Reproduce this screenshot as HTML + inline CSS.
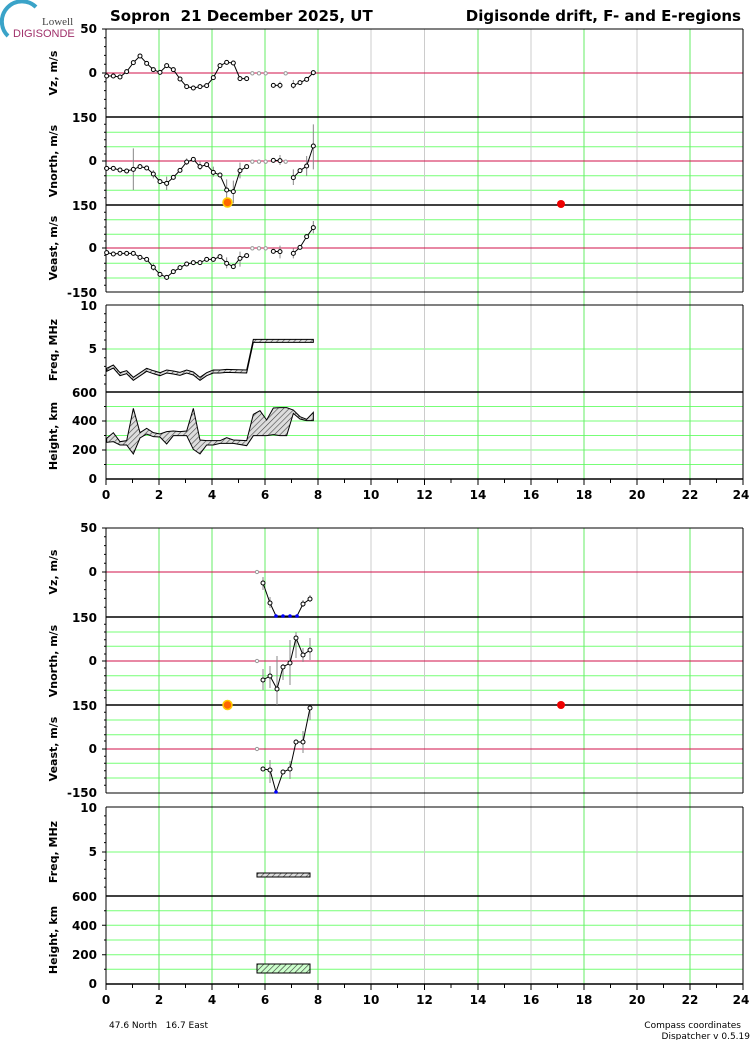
<!DOCTYPE html>
<html><head><meta charset="utf-8"><style>
body{margin:0;background:#fff;width:750px;height:1040px;overflow:hidden}
svg{display:block;font-family:"DejaVu Sans","Liberation Sans",sans-serif}
.t{font-weight:bold;font-size:12px;text-anchor:end}
.yl{font-weight:bold;font-size:11px;text-anchor:middle}
.xl{font-weight:bold;font-size:12px;text-anchor:middle}
</style></head><body>
<svg width="750" height="1040" viewBox="0 0 750 1040">
<defs>
<pattern id="h" width="4" height="4" patternUnits="userSpaceOnUse" patternTransform="rotate(45)"><rect width="4" height="4" fill="#ddd"/><line x1="0" y1="0" x2="0" y2="4" stroke="#444" stroke-width="1.2"/></pattern>
<pattern id="hz" width="12" height="12" patternUnits="userSpaceOnUse" patternTransform="rotate(45)"><rect width="12" height="12" fill="#ddd"/><line x1="0" y1="0" x2="0" y2="12" stroke="#444" stroke-width="3.6"/></pattern>
<pattern id="hg" width="4" height="4" patternUnits="userSpaceOnUse" patternTransform="rotate(45)"><rect width="4" height="4" fill="#cfc"/><line x1="0" y1="0" x2="0" y2="4" stroke="#333" stroke-width="1.2"/></pattern>
</defs>

<!-- logo -->
<path d="M8 36 A18 18 0 0 1 36 7" fill="none" stroke="#3aa3c8" stroke-width="4"/>
<text x="42" y="25" font-family="Liberation Serif,serif" font-size="11" fill="#444">Lowell</text>
<text x="13" y="37" font-family="Liberation Sans,sans-serif" font-size="11" fill="#a0306a">DIGISONDE</text>
<text x="110" y="21" font-weight="bold" font-size="15" xml:space="preserve">Sopron  21 December 2025, UT</text>
<text x="741" y="21" font-weight="bold" font-size="15" text-anchor="end">Digisonde drift, F- and E-regions</text>

<!-- ===== grids ===== -->
<g stroke-width="1">
<!-- horizontal top -->
<g stroke="#7f7">
<line x1="106" x2="743" y1="132.3" y2="132.3"/><line x1="106" x2="743" y1="146.7" y2="146.7"/><line x1="106" x2="743" y1="175.7" y2="175.7"/><line x1="106" x2="743" y1="190.3" y2="190.3"/>
<line x1="106" x2="743" y1="219.7" y2="219.7"/><line x1="106" x2="743" y1="234.3" y2="234.3"/><line x1="106" x2="743" y1="263.3" y2="263.3"/><line x1="106" x2="743" y1="278" y2="278"/>
<line x1="106" x2="743" y1="349" y2="349"/>
<line x1="106" x2="743" y1="406.5" y2="406.5"/><line x1="106" x2="743" y1="421" y2="421"/><line x1="106" x2="743" y1="435.5" y2="435.5"/><line x1="106" x2="743" y1="450" y2="450"/><line x1="106" x2="743" y1="464.5" y2="464.5"/>
<!-- bottom -->
<line x1="106" x2="743" y1="632" y2="632"/><line x1="106" x2="743" y1="646.3" y2="646.3"/><line x1="106" x2="743" y1="675.7" y2="675.7"/><line x1="106" x2="743" y1="690.3" y2="690.3"/>
<line x1="106" x2="743" y1="720" y2="720"/><line x1="106" x2="743" y1="734.7" y2="734.7"/><line x1="106" x2="743" y1="763.3" y2="763.3"/><line x1="106" x2="743" y1="778" y2="778"/>
<line x1="106" x2="743" y1="852" y2="852"/>
<line x1="106" x2="743" y1="910.7" y2="910.7"/><line x1="106" x2="743" y1="925.3" y2="925.3"/><line x1="106" x2="743" y1="940" y2="940"/><line x1="106" x2="743" y1="954.7" y2="954.7"/><line x1="106" x2="743" y1="969.3" y2="969.3"/>
</g>
<!-- vertical -->
<g stroke="#6e6">
<line x1="159" x2="159" y1="29" y2="479"/><line x1="212" x2="212" y1="29" y2="479"/><line x1="265" x2="265" y1="29" y2="479"/><line x1="318" x2="318" y1="29" y2="479"/>
<line x1="478" x2="478" y1="29" y2="479"/><line x1="584" x2="584" y1="29" y2="479"/><line x1="690" x2="690" y1="29" y2="479"/>
<line x1="159" x2="159" y1="528" y2="984"/><line x1="212" x2="212" y1="528" y2="984"/><line x1="265" x2="265" y1="528" y2="984"/><line x1="318" x2="318" y1="528" y2="984"/>
<line x1="478" x2="478" y1="528" y2="984"/><line x1="584" x2="584" y1="528" y2="984"/><line x1="690" x2="690" y1="528" y2="984"/>
</g>
<g stroke="#ccc">
<line x1="371" x2="371" y1="29" y2="479"/><line x1="424.5" x2="424.5" y1="29" y2="479"/><line x1="531" x2="531" y1="29" y2="479"/><line x1="637" x2="637" y1="29" y2="479"/>
<line x1="371" x2="371" y1="528" y2="984"/><line x1="424.5" x2="424.5" y1="528" y2="984"/><line x1="531" x2="531" y1="528" y2="984"/><line x1="637" x2="637" y1="528" y2="984"/>
</g>
<!-- zero lines -->
<g stroke="#d0104a">
<line x1="106" x2="743" y1="73" y2="73"/><line x1="106" x2="743" y1="161" y2="161"/><line x1="106" x2="743" y1="248" y2="248"/>
<line x1="106" x2="743" y1="572" y2="572"/><line x1="106" x2="743" y1="661" y2="661"/><line x1="106" x2="743" y1="749" y2="749"/>
</g>
<!-- frames -->
<g stroke="#000">
<line x1="106" x2="743" y1="29" y2="29"/><line x1="106" x2="743" y1="117" y2="117" stroke-width="1.5"/><line x1="106" x2="743" y1="205" y2="205" stroke-width="1.5"/><line x1="106" x2="743" y1="292" y2="292"/>
<line x1="106" x2="743" y1="305" y2="305"/><line x1="106" x2="743" y1="392" y2="392" stroke-width="1.5"/><line x1="106" x2="743" y1="479" y2="479" stroke-width="1.5"/>
<line x1="106" x2="106" y1="29" y2="292"/><line x1="106" x2="106" y1="305" y2="479"/>
<line x1="743" x2="743" y1="29" y2="292"/><line x1="743" x2="743" y1="305" y2="479"/>
<line x1="106" x2="743" y1="528" y2="528"/><line x1="106" x2="743" y1="617" y2="617" stroke-width="1.5"/><line x1="106" x2="743" y1="705" y2="705" stroke-width="1.5"/><line x1="106" x2="743" y1="793" y2="793"/>
<line x1="106" x2="743" y1="807" y2="807"/><line x1="106" x2="743" y1="896" y2="896" stroke-width="1.5"/><line x1="106" x2="743" y1="984" y2="984" stroke-width="1.5"/>
<line x1="106" x2="106" y1="528" y2="793"/><line x1="106" x2="106" y1="807" y2="984"/>
<line x1="743" x2="743" y1="528" y2="793"/><line x1="743" x2="743" y1="807" y2="984"/>
</g>
<!-- left minor ticks -->
<g stroke="#000">
<path d="M102 29H106M104 37.8H106M104 46.6H106M104 55.4H106M104 64.2H106M102 73H106M104 81.8H106M104 90.6H106M104 99.4H106M104 108.2H106
M104 124.3H106M104 132.3H106M104 139.7H106M104 146.7H106M104 154H106M102 161H106M104 168H106M104 175.7H106M104 183H106M104 190.3H106M104 197.7H106
M104 212.3H106M104 219.7H106M104 227H106M104 234.3H106M104 241H106M102 248H106M104 255.3H106M104 263.3H106M104 270.7H106M104 278H106M104 285.3H106
M104 313.7H106M104 322.4H106M104 331.2H106M104 340H106M102 349H106M104 357.7H106M104 366.4H106M104 375.2H106M104 384H106
M104 406.5H106M102 421H106M104 435.5H106M102 450H106M104 464.5H106"/>
<path d="M102 528H106M104 536.8H106M104 545.6H106M104 554.4H106M104 563.2H106M102 572H106M104 580.8H106M104 589.6H106M104 598.4H106M104 607.2H106
M104 624.3H106M104 632H106M104 639.7H106M104 646.3H106M104 654H106M102 661H106M104 668H106M104 675.7H106M104 683H106M104 690.3H106M104 697.7H106
M104 712.3H106M104 720H106M104 727H106M104 734.7H106M104 741H106M102 749H106M104 756.3H106M104 763.3H106M104 770.7H106M104 778H106M104 785.3H106
M104 815.9H106M104 824.8H106M104 833.7H106M104 842.6H106M102 852H106M104 860.4H106M104 869.3H106M104 878.2H106M104 887.1H106
M104 910.7H106M102 925.3H106M104 940H106M102 954.7H106M104 969.3H106"/>
<!-- x ticks -->
<path d="M106 479v6M132.5 479v4M159 479v6M185.5 479v4M212 479v6M238.5 479v4M265 479v6M291.5 479v4M318 479v6M344.5 479v4M371 479v6M397.5 479v4M424.5 479v6M451 479v4M478 479v6M504.5 479v4M531 479v6M557.5 479v4M584 479v6M610.5 479v4M637 479v6M663.5 479v4M690 479v6M716.5 479v4M743 479v6"/>
<path d="M106 984v6M132.5 984v4M159 984v6M185.5 984v4M212 984v6M238.5 984v4M265 984v6M291.5 984v4M318 984v6M344.5 984v4M371 984v6M397.5 984v4M424.5 984v6M451 984v4M478 984v6M504.5 984v4M531 984v6M557.5 984v4M584 984v6M610.5 984v4M637 984v6M663.5 984v4M690 984v6M716.5 984v4M743 984v6"/>
</g>
</g>

<!-- y tick labels -->
<g class="t">
<text x="97" y="33">50</text><text x="97" y="77">0</text>
<text x="97" y="122">150</text><text x="97" y="165">0</text>
<text x="97" y="210">150</text><text x="97" y="252">0</text><text x="97" y="297">-150</text>
<text x="97" y="310">10</text><text x="97" y="353">5</text>
<text x="97" y="397">600</text><text x="97" y="425">400</text><text x="97" y="454">200</text><text x="97" y="483">0</text>
<text x="97" y="532">50</text><text x="97" y="576">0</text>
<text x="97" y="622">150</text><text x="97" y="665">0</text>
<text x="97" y="710">150</text><text x="97" y="753">0</text><text x="97" y="797">-150</text>
<text x="97" y="812">10</text><text x="97" y="856">5</text>
<text x="97" y="901">600</text><text x="97" y="930">400</text><text x="97" y="959">200</text><text x="97" y="988">0</text>
</g>
<!-- y titles -->
<g class="yl">
<text transform="translate(57,73) rotate(-90)">Vz, m/s</text>
<text transform="translate(57,161) rotate(-90)">Vnorth, m/s</text>
<text transform="translate(57,248) rotate(-90)">Veast, m/s</text>
<text transform="translate(57,350) rotate(-90)">Freq, MHz</text>
<text transform="translate(57,436) rotate(-90)">Height, km</text>
<text transform="translate(57,572) rotate(-90)">Vz, m/s</text>
<text transform="translate(57,661) rotate(-90)">Vnorth, m/s</text>
<text transform="translate(57,749) rotate(-90)">Veast, m/s</text>
<text transform="translate(57,852) rotate(-90)">Freq, MHz</text>
<text transform="translate(57,940) rotate(-90)">Height, km</text>
</g>
<!-- x labels -->
<g class="xl">
<text x="106" y="499">0</text><text x="159" y="499">2</text><text x="212" y="499">4</text><text x="265" y="499">6</text><text x="318" y="499">8</text><text x="371" y="499">10</text><text x="424.5" y="499">12</text><text x="478" y="499">14</text><text x="531" y="499">16</text><text x="584" y="499">18</text><text x="637" y="499">20</text><text x="690" y="499">22</text><text x="741" y="499">24</text>
<text x="106" y="1004">0</text><text x="159" y="1004">2</text><text x="212" y="1004">4</text><text x="265" y="1004">6</text><text x="318" y="1004">8</text><text x="371" y="1004">10</text><text x="424.5" y="1004">12</text><text x="478" y="1004">14</text><text x="531" y="1004">16</text><text x="584" y="1004">18</text><text x="637" y="1004">20</text><text x="690" y="1004">22</text><text x="741" y="1004">24</text>
</g>

<!-- ===== TOP DATA (zoom coords) ===== -->
<g transform="scale(0.33333)">
<g stroke="#888" stroke-width="3" fill="none">
<path d="M680 182V192M840 245V266M880 240V266M940 212V226
M400 445V570M940 373V508M920 468V528M880 508V555M680 538V605M700 542V610M720 488V535M840 465V495M500 530V570M460 510V535M560 475V495M600 485V510M640 500V530
M940 663V700M680 772V805M720 755V800M840 737V775M880 745V775M460 790V812M500 825V840"/>
</g>
<g stroke="#000" stroke-width="3" fill="none">
<polyline points="320,228 340,228 360,231 380,215 400,188 420,168 440,190 460,209 480,217 500,197 520,209 540,237 560,260 580,264 600,260 620,257 640,233 660,197 680,187 700,189 720,236 740,236"/>
<polyline points="820,256 840,256"/>
<polyline points="880,256 900,248 920,238 940,218"/>
<polyline points="320,505 340,505 360,510 380,513 400,508 420,500 440,504 460,522 480,545 500,550 520,532 540,511 560,486 580,478 600,500 620,494 640,517 660,525 680,570 700,575 720,512 740,500"/>
<polyline points="820,481 840,482"/>
<polyline points="880,533 900,512 920,498 940,438"/>
<polyline points="320,758 340,762 360,760 380,760 400,760 420,772 440,778 460,802 480,823 500,832 520,815 540,803 560,792 580,788 600,788 620,778 640,778 660,770 680,790 700,800 720,775 740,767"/>
<polyline points="820,754 840,755"/>
<polyline points="880,760 900,742 920,710 940,683"/>
</g>
<g stroke="#000" stroke-width="3" fill="#fff">
<circle cx="320" cy="228" r="6"/><circle cx="340" cy="228" r="6"/><circle cx="360" cy="231" r="6"/><circle cx="380" cy="215" r="6"/><circle cx="400" cy="188" r="6"/><circle cx="420" cy="168" r="6"/><circle cx="440" cy="190" r="6"/><circle cx="460" cy="209" r="6"/><circle cx="480" cy="217" r="6"/><circle cx="500" cy="197" r="6"/><circle cx="520" cy="209" r="6"/><circle cx="540" cy="237" r="6"/><circle cx="560" cy="260" r="6"/><circle cx="580" cy="264" r="6"/><circle cx="600" cy="260" r="6"/><circle cx="620" cy="257" r="6"/><circle cx="640" cy="233" r="6"/><circle cx="660" cy="197" r="6"/><circle cx="680" cy="187" r="6"/><circle cx="700" cy="189" r="6"/><circle cx="720" cy="236" r="6"/><circle cx="740" cy="236" r="6"/>
<circle cx="820" cy="256" r="6"/><circle cx="840" cy="256" r="6"/><circle cx="880" cy="256" r="6"/><circle cx="900" cy="248" r="6"/><circle cx="920" cy="238" r="6"/><circle cx="940" cy="218" r="6"/>
<circle cx="320" cy="505" r="6"/><circle cx="340" cy="505" r="6"/><circle cx="360" cy="510" r="6"/><circle cx="380" cy="513" r="6"/><circle cx="400" cy="508" r="6"/><circle cx="420" cy="500" r="6"/><circle cx="440" cy="504" r="6"/><circle cx="460" cy="522" r="6"/><circle cx="480" cy="545" r="6"/><circle cx="500" cy="550" r="6"/><circle cx="520" cy="532" r="6"/><circle cx="540" cy="511" r="6"/><circle cx="560" cy="486" r="6"/><circle cx="580" cy="478" r="6"/><circle cx="600" cy="500" r="6"/><circle cx="620" cy="494" r="6"/><circle cx="640" cy="517" r="6"/><circle cx="660" cy="525" r="6"/><circle cx="680" cy="570" r="6"/><circle cx="700" cy="575" r="6"/><circle cx="720" cy="512" r="6"/><circle cx="740" cy="500" r="6"/>
<circle cx="820" cy="481" r="6"/><circle cx="840" cy="482" r="6"/><circle cx="880" cy="533" r="6"/><circle cx="900" cy="512" r="6"/><circle cx="920" cy="498" r="6"/><circle cx="940" cy="438" r="6"/>
<circle cx="320" cy="758" r="6"/><circle cx="340" cy="762" r="6"/><circle cx="360" cy="760" r="6"/><circle cx="380" cy="760" r="6"/><circle cx="400" cy="760" r="6"/><circle cx="420" cy="772" r="6"/><circle cx="440" cy="778" r="6"/><circle cx="460" cy="802" r="6"/><circle cx="480" cy="823" r="6"/><circle cx="500" cy="832" r="6"/><circle cx="520" cy="815" r="6"/><circle cx="540" cy="803" r="6"/><circle cx="560" cy="792" r="6"/><circle cx="580" cy="788" r="6"/><circle cx="600" cy="788" r="6"/><circle cx="620" cy="778" r="6"/><circle cx="640" cy="778" r="6"/><circle cx="660" cy="770" r="6"/><circle cx="680" cy="790" r="6"/><circle cx="700" cy="800" r="6"/><circle cx="720" cy="775" r="6"/><circle cx="740" cy="767" r="6"/>
<circle cx="820" cy="754" r="6"/><circle cx="840" cy="755" r="6"/><circle cx="880" cy="760" r="6"/><circle cx="900" cy="742" r="6"/><circle cx="920" cy="710" r="6"/><circle cx="940" cy="683" r="6"/>
</g>
<g stroke="#999" stroke-width="3" fill="#fff">
<circle cx="757" cy="220" r="5"/><circle cx="777" cy="220" r="5"/><circle cx="797" cy="220" r="5"/><circle cx="857" cy="220" r="5"/>
<circle cx="757" cy="485" r="5"/><circle cx="777" cy="485" r="5"/><circle cx="797" cy="485" r="5"/><circle cx="857" cy="485" r="5"/>
<circle cx="757" cy="745" r="5"/><circle cx="777" cy="745" r="5"/><circle cx="797" cy="745" r="5"/>
</g>
</g>
<!-- freq & height top (zoom2 coords) -->
<g transform="translate(0,290) scale(0.33333)">
<polygon fill="url(#hz)" stroke="#000" stroke-width="3" points="320,235 340,225 360,248 380,242 400,262 440,235 460,242 480,248 500,240 520,243 540,247 560,240 580,246 600,262 620,248 640,240 660,240 680,238 740,240 760,148 940,148 940,157 760,157 740,249 680,247 660,249 640,249 620,257 600,271 580,255 560,249 540,256 520,252 500,249 480,257 460,251 440,244 400,271 380,251 360,257 340,234 320,244"/>
<polygon fill="url(#hz)" stroke="#000" stroke-width="3" points="320,445 340,428 360,455 380,452 400,355 420,428 440,415 460,428 480,432 500,425 520,423 540,425 560,423 580,355 600,450 620,452 640,452 660,452 680,443 700,450 740,452 760,373 780,362 800,390 820,354 840,353 860,353 880,360 900,380 920,388 940,367 940,392 920,392 900,387 880,370 860,437 840,437 820,434 800,437 780,437 760,437 740,467 700,460 680,460 660,460 640,465 620,465 600,492 580,478 560,437 540,437 520,437 500,462 480,441 460,440 440,432 420,444 400,492 380,465 360,465 340,455 320,457"/>
</g>

<!-- markers -->
<g>
<circle cx="227.5" cy="202.5" r="4.5" fill="#f60" stroke="#fc0" stroke-width="1.5"/>
<circle cx="561" cy="204" r="4" fill="#e00"/>
<circle cx="227.5" cy="705" r="4.5" fill="#f60" stroke="#fc0" stroke-width="1.5"/>
<circle cx="561" cy="705" r="4" fill="#e00"/>
</g>

<!-- ===== BOTTOM DATA ===== -->
<g stroke="#888" stroke-width="1" fill="none">
<path d="M263 577V590M270 597V608M303 600V607M310 595V602
M263 669V690M270 666V688M277 656V705M283 664V680M290 640V685M296 632V658M303 648V662M310 638V660
M270 760V783M290 761V779M303 731V753M310 706V720"/>
</g>
<g stroke="#000" stroke-width="1" fill="none">
<polyline points="263,583 270,603 276,616 297,616 303,604 310,599"/>
<polyline points="263,680 270,676 277,689 283,667 290,663 296,638 303,655 310,650"/>
<polyline points="263,769 270,770 276,792 283,772 290,769 296,742 303,742 310,708"/>
</g>
<g stroke="#000" stroke-width="1" fill="#fff">
<circle cx="263" cy="583" r="2"/><circle cx="270" cy="603" r="2"/><circle cx="303" cy="604" r="2"/><circle cx="310" cy="599" r="2"/>
<circle cx="263" cy="680" r="2"/><circle cx="270" cy="676" r="2"/><circle cx="277" cy="689" r="2"/><circle cx="283" cy="667" r="2"/><circle cx="290" cy="663" r="2"/><circle cx="296" cy="638" r="2"/><circle cx="303" cy="655" r="2"/><circle cx="310" cy="650" r="2"/>
<circle cx="263" cy="769" r="2"/><circle cx="270" cy="770" r="2"/><circle cx="283" cy="772" r="2"/><circle cx="290" cy="769" r="2"/><circle cx="296" cy="742" r="2"/><circle cx="303" cy="742" r="2"/><circle cx="310" cy="708" r="2"/>
</g>
<g fill="#00f"><circle cx="276" cy="616" r="1.8"/><circle cx="283" cy="616" r="1.8"/><circle cx="290" cy="616" r="1.8"/><circle cx="297" cy="616" r="1.8"/><circle cx="276" cy="792" r="1.8"/></g>
<g stroke="#999" fill="#fff" stroke-width="1"><circle cx="257" cy="572" r="1.6"/><circle cx="257" cy="661" r="1.6"/><circle cx="257" cy="749" r="1.6"/></g>
<rect x="257" y="873" width="53" height="4" fill="url(#h)" stroke="#000" stroke-width="1"/>
<rect x="257" y="964" width="53" height="9" fill="url(#hg)" stroke="#000" stroke-width="1"/>

<!-- footer -->
<text x="109" y="1028" font-size="9" xml:space="preserve">47.6 North   16.7 East</text>
<text x="741" y="1028" font-size="9" text-anchor="end">Compass coordinates</text>
<text x="750" y="1039" font-size="9" text-anchor="end">Dispatcher v 0.5.19</text>
</svg>
</body></html>
